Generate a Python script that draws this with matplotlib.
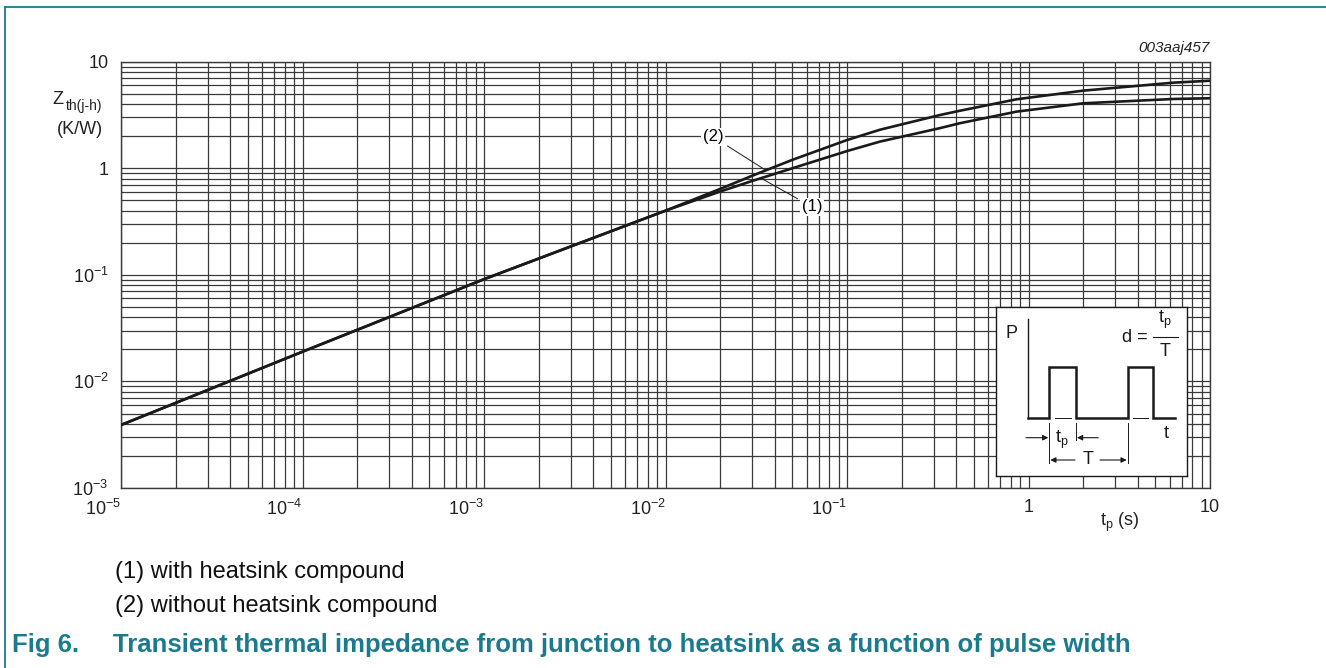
import numpy as np
import matplotlib
matplotlib.use('Agg')
import matplotlib.pyplot as plt
from matplotlib.ticker import LogLocator, FixedLocator, NullFormatter
from matplotlib.lines import Line2D

plt.rcParams['font.family'] = ['Liberation Sans', 'DejaVu Sans']
plt.rcParams['mathtext.fontset'] = 'custom'
plt.rcParams['mathtext.rm'] = 'Liberation Sans'
plt.rcParams['mathtext.it'] = 'Liberation Sans:italic'
plt.rcParams['mathtext.bf'] = 'Liberation Sans:bold'
plt.rcParams['mathtext.default'] = 'regular'

# pulse width t_p (s) and Z_th(j-h) (K/W)
tp_with = [1e-5, 1e-4, 1e-3, 1e-2, 0.02, 0.03, 0.05, 0.1, 0.152, 0.325, 0.42, 0.86, 2.0, 6.3, 10.0]
zth_with = [0.0039, 0.019, 0.091, 0.40, 0.605, 0.76, 1.0, 1.45, 1.78, 2.38, 2.65, 3.40, 4.07, 4.47, 4.54]

tp_without = [1e-5, 1e-4, 1e-3, 1e-2, 0.02, 0.03, 0.05, 0.1, 0.152, 0.325, 0.42, 0.86, 2.0, 6.3, 10.0]
zth_without = [0.0039, 0.019, 0.091, 0.40, 0.64, 0.85, 1.20, 1.84, 2.30, 3.16, 3.47, 4.44, 5.35, 6.36, 6.63]

xticks = [1e-5, 1e-4, 1e-3, 1e-2, 1e-1, 1, 10]
xticklabels = ['10$^{-5}$', '10$^{-4}$', '10$^{-3}$', '10$^{-2}$', '10$^{-1}$', '1', '10']
yticks = [1e-3, 1e-2, 1e-1, 1, 10]
yticklabels = ['10$^{-3}$', '10$^{-2}$', '10$^{-1}$', '1', '10']

teal = '#1b7b8e'
ink = '#1a1a1a'
gridc = '#3a3a3a'
txt = '#222222'

W, H = 1326, 668
fig = plt.figure(figsize=(W / 100, H / 100), dpi=100)
ax = fig.add_axes([121 / W, 1 - 488 / H, (1210 - 121) / W, (488 - 61.7) / H])

ax.plot(tp_with, zth_with, color=ink, lw=1.9, solid_joinstyle='round', zorder=3)
ax.plot(tp_without, zth_without, color=ink, lw=1.9, solid_joinstyle='round', zorder=3)

ax.set_xscale('log')
ax.set_yscale('log')
ax.set_xlim(1e-5, 10)
ax.set_ylim(1e-3, 10)
ax.xaxis.set_major_locator(FixedLocator(xticks))
ax.yaxis.set_major_locator(FixedLocator(yticks))
ax.set_xticklabels(xticklabels)
ax.set_yticklabels(yticklabels)
ax.xaxis.set_minor_locator(LogLocator(base=10, subs=np.arange(2, 10), numticks=20))
ax.yaxis.set_minor_locator(LogLocator(base=10, subs=np.arange(2, 10), numticks=20))
ax.xaxis.set_minor_formatter(NullFormatter())
ax.yaxis.set_minor_formatter(NullFormatter())
ax.tick_params(which='both', length=0, labelsize=13, colors=txt)
ax.tick_params(axis='x', pad=8)
ax.tick_params(axis='y', pad=9)
# labels with an exponent end at their grid line, plain numbers are centred
for lab in ax.get_xticklabels():
    if '$' in lab.get_text():
        lab.set_horizontalalignment('right')
ax.grid(which='both', color=gridc, lw=0.9)
for s in ax.spines.values():
    s.set_color(gridc)
    s.set_linewidth(1.0)

# curve labels with leader lines
bb = dict(boxstyle='square,pad=0.1', fc='white', ec='none')
ax.annotate('(2)', xy=(0.0353, 0.97), xytext=(0.0183, 1.97), fontsize=12,
            ha='center', va='center', bbox=bb,
            arrowprops=dict(arrowstyle='-', lw=0.7, color=ink, shrinkA=2, shrinkB=0))
ax.annotate('(1)', xy=(0.0339, 0.80), xytext=(0.0641, 0.435), fontsize=12,
            ha='center', va='center', bbox=bb,
            arrowprops=dict(arrowstyle='-', lw=0.7, color=ink, shrinkA=2, shrinkB=0))

# axis titles
fig.text(58 / W, 1 - 100 / H, 'Z', fontsize=13, ha='center', va='center', color=txt)
fig.text(66 / W, 1 - 106 / H, 'th(j-h)', fontsize=10, ha='left', va='center', color=txt)
fig.text(80 / W, 1 - 130 / H, '(K/W)', fontsize=13, ha='center', va='center', color=txt)
fig.text(1120 / W, 1 - 522 / H, 't$_{p}$ (s)', fontsize=13, ha='center', va='center', color=txt)
fig.text(1210 / W, 1 - 48 / H, '003aaj457', fontsize=11, style='italic', ha='right', va='center',
         color=txt)

# inset pulse diagram
bx0, by0, bw, bh = 996, 307.3, 191.3, 168.4
ins = fig.add_axes([bx0 / W, 1 - (by0 + bh) / H, bw / W, bh / H], zorder=5)
ins.set_xlim(0, bw)
ins.set_ylim(bh, 0)
ins.set_xticks([])
ins.set_yticks([])
ins.set_facecolor('white')
for s in ins.spines.values():
    s.set_color(ink)
    s.set_linewidth(1.0)
ins.plot([32.3, 32.3], [12, 111], color=ink, lw=1.0)
px = [32.3, 53.3, 53.3, 80, 80, 131.7, 131.7, 157.3, 157.3, 179]
py = [111, 111, 59.4, 59.4, 111, 111, 59.4, 59.4, 111, 111]
ins.plot(px, py, color=ink, lw=1.8, solid_joinstyle='miter')
ins.plot([59, 74.7], [111, 111], color=ink, lw=0.7)
ins.plot([136.7, 152.3], [111, 111], color=ink, lw=0.7)
for xx, y2 in [(53.3, 156), (80, 133), (131.7, 156)]:
    ins.plot([xx, xx], [116, y2], color=ink, lw=0.7)
ap = dict(arrowstyle='-|>', lw=0.8, color=ink, mutation_scale=8, shrinkA=0, shrinkB=0)
ins.annotate('', xy=(52.3, 130.4), xytext=(30, 130.4), arrowprops=ap)
ins.annotate('', xy=(81, 130.4), xytext=(102.3, 130.4), arrowprops=ap)
ins.annotate('', xy=(54.3, 152.7), xytext=(79, 152.7), arrowprops=ap)
ins.annotate('', xy=(130.7, 152.7), xytext=(104, 152.7), arrowprops=ap)
ins.text(15.7, 26, 'P', fontsize=13, ha='center', va='center', color=ink)
ins.text(170.7, 126, 't', fontsize=13, ha='center', va='center', color=ink)
ins.text(66, 133, 't$_{p}$', fontsize=13, ha='center', va='center', color=ink)
ins.text(92.3, 152.7, 'T', fontsize=13, ha='center', va='center', color=ink)
ins.text(139, 30, 'd =', fontsize=13, ha='center', va='center', color=ink)
ins.text(169, 13, 't$_{p}$', fontsize=13, ha='center', va='center', color=ink)
ins.plot([157, 182], [30, 30], color=ink, lw=0.8)
ins.text(169, 44, 'T', fontsize=13, ha='center', va='center', color=ink)

# captions
fig.text(115 / W, 1 - 572 / H, '(1) with heatsink compound', fontsize=17, ha='left', va='center', color='#111111')
fig.text(115 / W, 1 - 606 / H, '(2) without heatsink compound', fontsize=17, ha='left', va='center', color='#111111')
fig.text(12 / W, 1 - 645 / H, 'Fig 6.', fontsize=18.5, fontweight='bold', ha='left', va='center', color=teal)
fig.text(113 / W, 1 - 645 / H,
         'Transient thermal impedance from junction to heatsink as a function of pulse width',
         fontsize=18.5, fontweight='bold', ha='left', va='center', color=teal)

# frame lines of the datasheet figure box
fig.add_artist(Line2D([5 / W, 5 / W], [0, 1 - 7 / H], color=teal, lw=1.3))
fig.add_artist(Line2D([5 / W, 1], [1 - 7 / H, 1 - 7 / H], color=teal, lw=1.3))

fig.savefig('out.png', dpi=100)
